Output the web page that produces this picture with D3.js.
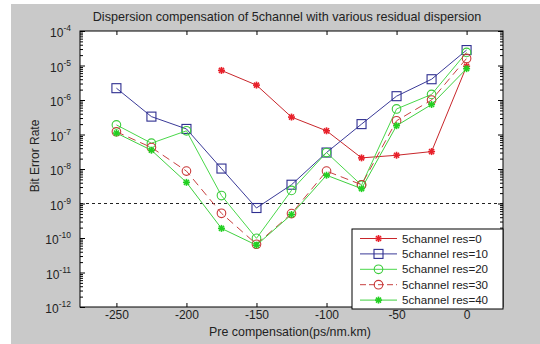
<!DOCTYPE html>
<html><head><meta charset="utf-8">
<script src="https://cdn.jsdelivr.net/npm/d3@7"></script>
<style>
body{margin:0;background:#fff;}
text{font-family:Arial,"Liberation Sans",sans-serif;}
</style></head>
<body><svg id="c" width="540" height="344"></svg>
<script>
const xCats = [-250,-225,-200,-175,-150,-125,-100,-75,-50,-25,0];
const res0  = [null,null,null,7.2e-6,2.7e-6,3.2e-7,1.28e-7,2.1e-8,2.5e-8,3.2e-8,9.5e-6];
const res10 = [2.2e-6,3.3e-7,1.45e-7,1.03e-8,7.4e-10,3.5e-9,3.0e-8,2.0e-7,1.29e-6,4.0e-6,2.8e-5];
const res20 = [1.9e-7,5.6e-8,1.28e-7,1.7e-9,9.8e-11,2.4e-9,3.0e-8,3.4e-9,5.5e-7,1.45e-6,2.4e-5];
const res30 = [1.2e-7,4.2e-8,8.7e-9,5.2e-10,6.6e-11,5.1e-10,8.7e-9,3.5e-9,2.5e-7,1.0e-6,1.6e-5];
const res40 = [1.1e-7,3.5e-8,4.1e-9,1.9e-10,6.2e-11,4.8e-10,6.6e-9,2.7e-9,1.8e-7,7.4e-7,8.1e-6];
const seriesNames = ["5channel res=0","5channel res=10","5channel res=20","5channel res=30","5channel res=40"];
const xTicks = [-250,-200,-150,-100,-50,0];
const yExps = [-4,-5,-6,-7,-8,-9,-10,-11,-12];
const threshold = 1e-9;

const svg = d3.select("#c");
svg.append("rect").attr("x",11).attr("y",4).attr("width",529).attr("height",340).attr("fill","#c9c9c9");

const L=80,R=503,T=31,B=307;
const x = d3.scaleLinear().domain([-276,26]).range([L,R]);
const y = d3.scaleLog().domain([1e-12,1e-4]).range([B,T]);

svg.append("rect").attr("x",L).attr("y",T).attr("width",R-L).attr("height",B-T).attr("fill","#fff");

svg.append("line").attr("x1",L).attr("x2",R).attr("y1",y(threshold)).attr("y2",y(threshold))
  .attr("stroke","#222").attr("stroke-width",1).attr("stroke-dasharray","3,3");

const g = svg.append("g");
const xb = d3.axisBottom(x).tickValues(xTicks).tickSize(-4).tickFormat(d=>d);
const xt = d3.axisTop(x).tickValues(xTicks).tickSize(-4).tickFormat("");
const minor=[];
for(let e=-12;e<-4;e++){for(let k=2;k<=9;k++)minor.push(k*Math.pow(10,e));}
const majors = yExps.map(e=>Math.pow(10,e));
const yl = d3.axisLeft(y).tickValues(majors).tickSize(-5).tickFormat("");
const ylm = d3.axisLeft(y).tickValues(minor).tickSize(-3).tickFormat("");
const yr = d3.axisRight(y).tickValues(majors).tickSize(-5).tickFormat("");
const yrm = d3.axisRight(y).tickValues(minor).tickSize(-3).tickFormat("");
const gx = g.append("g").attr("transform",`translate(0,${B})`).call(xb);
g.append("g").attr("transform",`translate(0,${T})`).call(xt);
g.append("g").attr("transform",`translate(${L},0)`).call(yl);
g.append("g").attr("transform",`translate(${L},0)`).call(ylm);
g.append("g").attr("transform",`translate(${R},0)`).call(yr);
g.append("g").attr("transform",`translate(${R},0)`).call(yrm);
g.selectAll(".domain").remove();
g.selectAll(".tick line").attr("stroke","#000");
gx.selectAll("text").attr("font-size",12).attr("fill","#222").attr("dy","0.55em").attr("y",5);
svg.append("rect").attr("x",L).attr("y",T).attr("width",R-L).attr("height",B-T)
  .attr("fill","none").attr("stroke","#000").attr("stroke-width",1);

yExps.forEach(e=>{
  const t = svg.append("text").attr("x",L-9).attr("y",y(Math.pow(10,e))+6)
    .attr("text-anchor","end").attr("font-size",12).attr("fill","#222");
  t.append("tspan").text("10");
  t.append("tspan").attr("dy",-6).attr("font-size",8.5).text(String(e));
});

const styles = [
  {vals:res0, line:"#c8262b", mk:"#e8202a", shape:"star", dash:null},
  {vals:res10,line:"#3a3a98", mk:"#2e2e90", shape:"square", dash:null},
  {vals:res20,line:"#4ad84a", mk:"#3ccc3c", shape:"circle", dash:null},
  {vals:res30,line:"#c84040", mk:"#c83838", shape:"circle", dash:"8,5"},
  {vals:res40,line:"#40d040", mk:"#22d022", shape:"star", dash:null}
];
function marker(sel,shape,color,cx,cy){
  if(shape==="star"){
    const s=3.5;
    const p=sel.append("g").attr("transform",`translate(${cx},${cy})`);
    [[-s,0,s,0],[0,-s,0,s],[-s*0.72,-s*0.72,s*0.72,s*0.72],[-s*0.72,s*0.72,s*0.72,-s*0.72]].forEach(a=>
      p.append("line").attr("x1",a[0]).attr("y1",a[1]).attr("x2",a[2]).attr("y2",a[3]).attr("stroke",color).attr("stroke-width",1.6));
  } else if(shape==="square"){
    sel.append("rect").attr("x",cx-4.5).attr("y",cy-4.5).attr("width",9).attr("height",9)
      .attr("fill","none").attr("stroke",color).attr("stroke-width",1.1);
  } else {
    sel.append("circle").attr("cx",cx).attr("cy",cy).attr("r",4.3)
      .attr("fill","none").attr("stroke",color).attr("stroke-width",1.1);
  }
}
const line = d3.line().defined(d=>d[1]!=null).x(d=>x(d[0])).y(d=>y(d[1]));
styles.forEach(s=>{
  const pts = xCats.map((c,i)=>[c,s.vals[i]]);
  svg.append("path").attr("d",line(pts)).attr("fill","none").attr("stroke",s.line)
    .attr("stroke-width",1).attr("stroke-dasharray",s.dash);
  const mg = svg.append("g");
  pts.filter(d=>d[1]!=null).forEach(d=>marker(mg,s.shape,s.mk,x(d[0]),y(d[1])));
});

const lg = svg.append("g");
lg.append("rect").attr("x",352).attr("y",229).attr("width",151).attr("height",80)
  .attr("fill","#fff").attr("stroke","#000").attr("stroke-width",1);
styles.forEach((s,i)=>{
  const cy = 238.5 + i*15.4;
  lg.append("line").attr("x1",360).attr("x2",397).attr("y1",cy).attr("y2",cy)
    .attr("stroke",s.line).attr("stroke-width",1).attr("stroke-dasharray",s.dash?"6,3":null);
  marker(lg,s.shape,s.mk,378.5,cy);
  lg.append("text").attr("x",402).attr("y",cy+4).attr("font-size",11.6).attr("fill","#222").text(seriesNames[i]);
});

svg.append("text").attr("x",287).attr("y",21).attr("text-anchor","middle").attr("font-size",12.6)
  .attr("fill","#222").text("Dispersion compensation of 5channel with various residual dispersion");
svg.append("text").attr("x",290).attr("y",336).attr("text-anchor","middle").attr("font-size",12.4)
  .attr("fill","#222").text("Pre compensation(ps/nm.km)");
svg.append("text").attr("transform","translate(39,156) rotate(-90)").attr("text-anchor","middle")
  .attr("font-size",12).attr("fill","#222").text("Bit Error Rate");
</script></body></html>
